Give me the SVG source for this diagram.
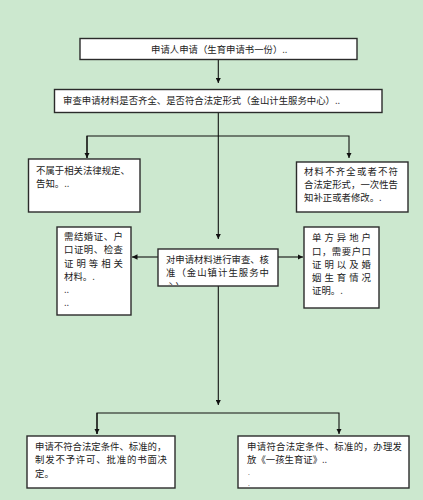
<svg xmlns="http://www.w3.org/2000/svg" width="423" height="500" viewBox="0 0 423 500">
<defs>
<style>
.box{fill:#ffffff;stroke:#2b2b2b;stroke-width:1.4}
.t{font-family:"Noto Sans CJK SC","Liberation Sans",sans-serif;font-size:9.4px;fill:#222}
.d{font-family:"Liberation Sans",sans-serif;font-size:6.5px;fill:#222}
.ln{fill:none;stroke:#111;stroke-width:1.1}
</style>
<marker id="ah" viewBox="0 0 10 10" refX="10" refY="5" markerWidth="5.5" markerHeight="5.5" orient="auto" markerUnits="userSpaceOnUse">
<path d="M0,0 L10,5 L0,10 z" fill="#111"/>
</marker>
<clipPath id="cc"><rect x="158" y="249" width="120" height="36"/></clipPath>
</defs>
<rect x="0" y="0" width="423" height="500" fill="#cce8cf"/>

<g id="connectors">
<line class="ln" x1="218.3" y1="59" x2="218.3" y2="83" marker-end="url(#ah)"/>
<line class="ln" x1="218.3" y1="107" x2="218.3" y2="239" marker-end="url(#ah)"/>
<polyline class="ln" points="87,158 87,136 349,136 349,158" marker-end="url(#ah)"/>
<line class="ln" x1="87" y1="136" x2="87" y2="158" marker-end="url(#ah)"/>
<line class="ln" x1="158" y1="257" x2="132" y2="257" marker-end="url(#ah)"/>
<line class="ln" x1="278" y1="257" x2="303" y2="257" marker-end="url(#ah)"/>
<line class="ln" x1="218.3" y1="286" x2="218.3" y2="405" marker-end="url(#ah)"/>
<polyline class="ln" points="97,434 97,413 339,413 339,434" marker-end="url(#ah)"/>
<line class="ln" x1="97" y1="413" x2="97" y2="434" marker-end="url(#ah)"/>
</g>

<g id="n1">
<rect class="box" x="80" y="38.5" width="277" height="21"/>
<text class="t" x="151" y="53.3">申请人申请（生育申请书一份）..</text>
</g>

<g id="n2">
<rect class="box" x="54.5" y="89.5" width="327.5" height="23"/>
<text class="t" x="63" y="103.5">审查申请材料是否齐全、是否符合法定形式（金山计生服务中心）..</text>
</g>

<g id="n3">
<rect class="box" x="28.5" y="159" width="111.5" height="53"/>
<text class="t" x="36" y="174">不属于相关法律规定、</text>
<text class="t" x="36" y="187">告知。..</text>
</g>

<g id="n4">
<rect class="box" x="296.5" y="162" width="111.5" height="50"/>
<text class="t" x="304" y="175" textLength="94" lengthAdjust="spacing">材料不齐全或者不符</text>
<text class="t" x="304" y="188" textLength="94" lengthAdjust="spacing">合法定形式，一次性告</text>
<text class="t" x="304" y="201">知补正或者修改。.</text>
</g>

<g id="n5">
<rect class="box" x="57" y="227" width="74" height="88"/>
<text class="t" x="64" y="240" textLength="59" lengthAdjust="spacing">需结婚证、户</text>
<text class="t" x="64" y="253.3" textLength="59" lengthAdjust="spacing">口证明、检查</text>
<text class="t" x="64" y="266.6" textLength="59" lengthAdjust="spacing">证明等相关</text>
<text class="t" x="64" y="280">材料。.</text>
<text class="t" x="64" y="293">..</text>
<text class="t" x="64" y="305.5">..</text>
</g>

<g id="n6">
<rect class="box" x="158" y="249" width="120" height="37"/>
<g clip-path="url(#cc)">
<text class="t" x="166" y="262.5" textLength="103" lengthAdjust="spacing">对申请材料进行审查、核</text>
<text class="t" x="166" y="276" textLength="103" lengthAdjust="spacing">准（金山镇计生服务中</text>
<text class="t" x="166" y="290">心）</text>
</g>
</g>

<g id="n7">
<rect class="box" x="304" y="227" width="75" height="81"/>
<text class="t" x="312" y="241" textLength="59" lengthAdjust="spacing">单方异地户</text>
<text class="t" x="312" y="254.5" textLength="59" lengthAdjust="spacing">口，需要户口</text>
<text class="t" x="312" y="267.5" textLength="59" lengthAdjust="spacing">证明以及婚</text>
<text class="t" x="312" y="280.5" textLength="59" lengthAdjust="spacing">姻生育情况</text>
<text class="t" x="312" y="293.5">证明。.</text>
</g>

<g id="n8">
<rect class="box" x="27" y="436" width="148" height="52"/>
<text class="t" x="35" y="449.5">申请不符合法定条件、标准的，</text>
<text class="t" x="35" y="463.3" textLength="132" lengthAdjust="spacing">制发不予许可、批准的书面决</text>
<text class="t" x="35" y="476.5">定。</text>
</g>

<g id="n9">
<rect class="box" x="238" y="436" width="171" height="52"/>
<text class="t" x="247" y="449.5" textLength="155" lengthAdjust="spacing">申请符合法定条件、标准的，办理发</text>
<text class="t" x="247" y="463.3">放《一孩生育证》..</text>
<text class="d" x="248" y="475">.</text>
<text class="d" x="248" y="485.5">.</text>
</g>
</svg>
